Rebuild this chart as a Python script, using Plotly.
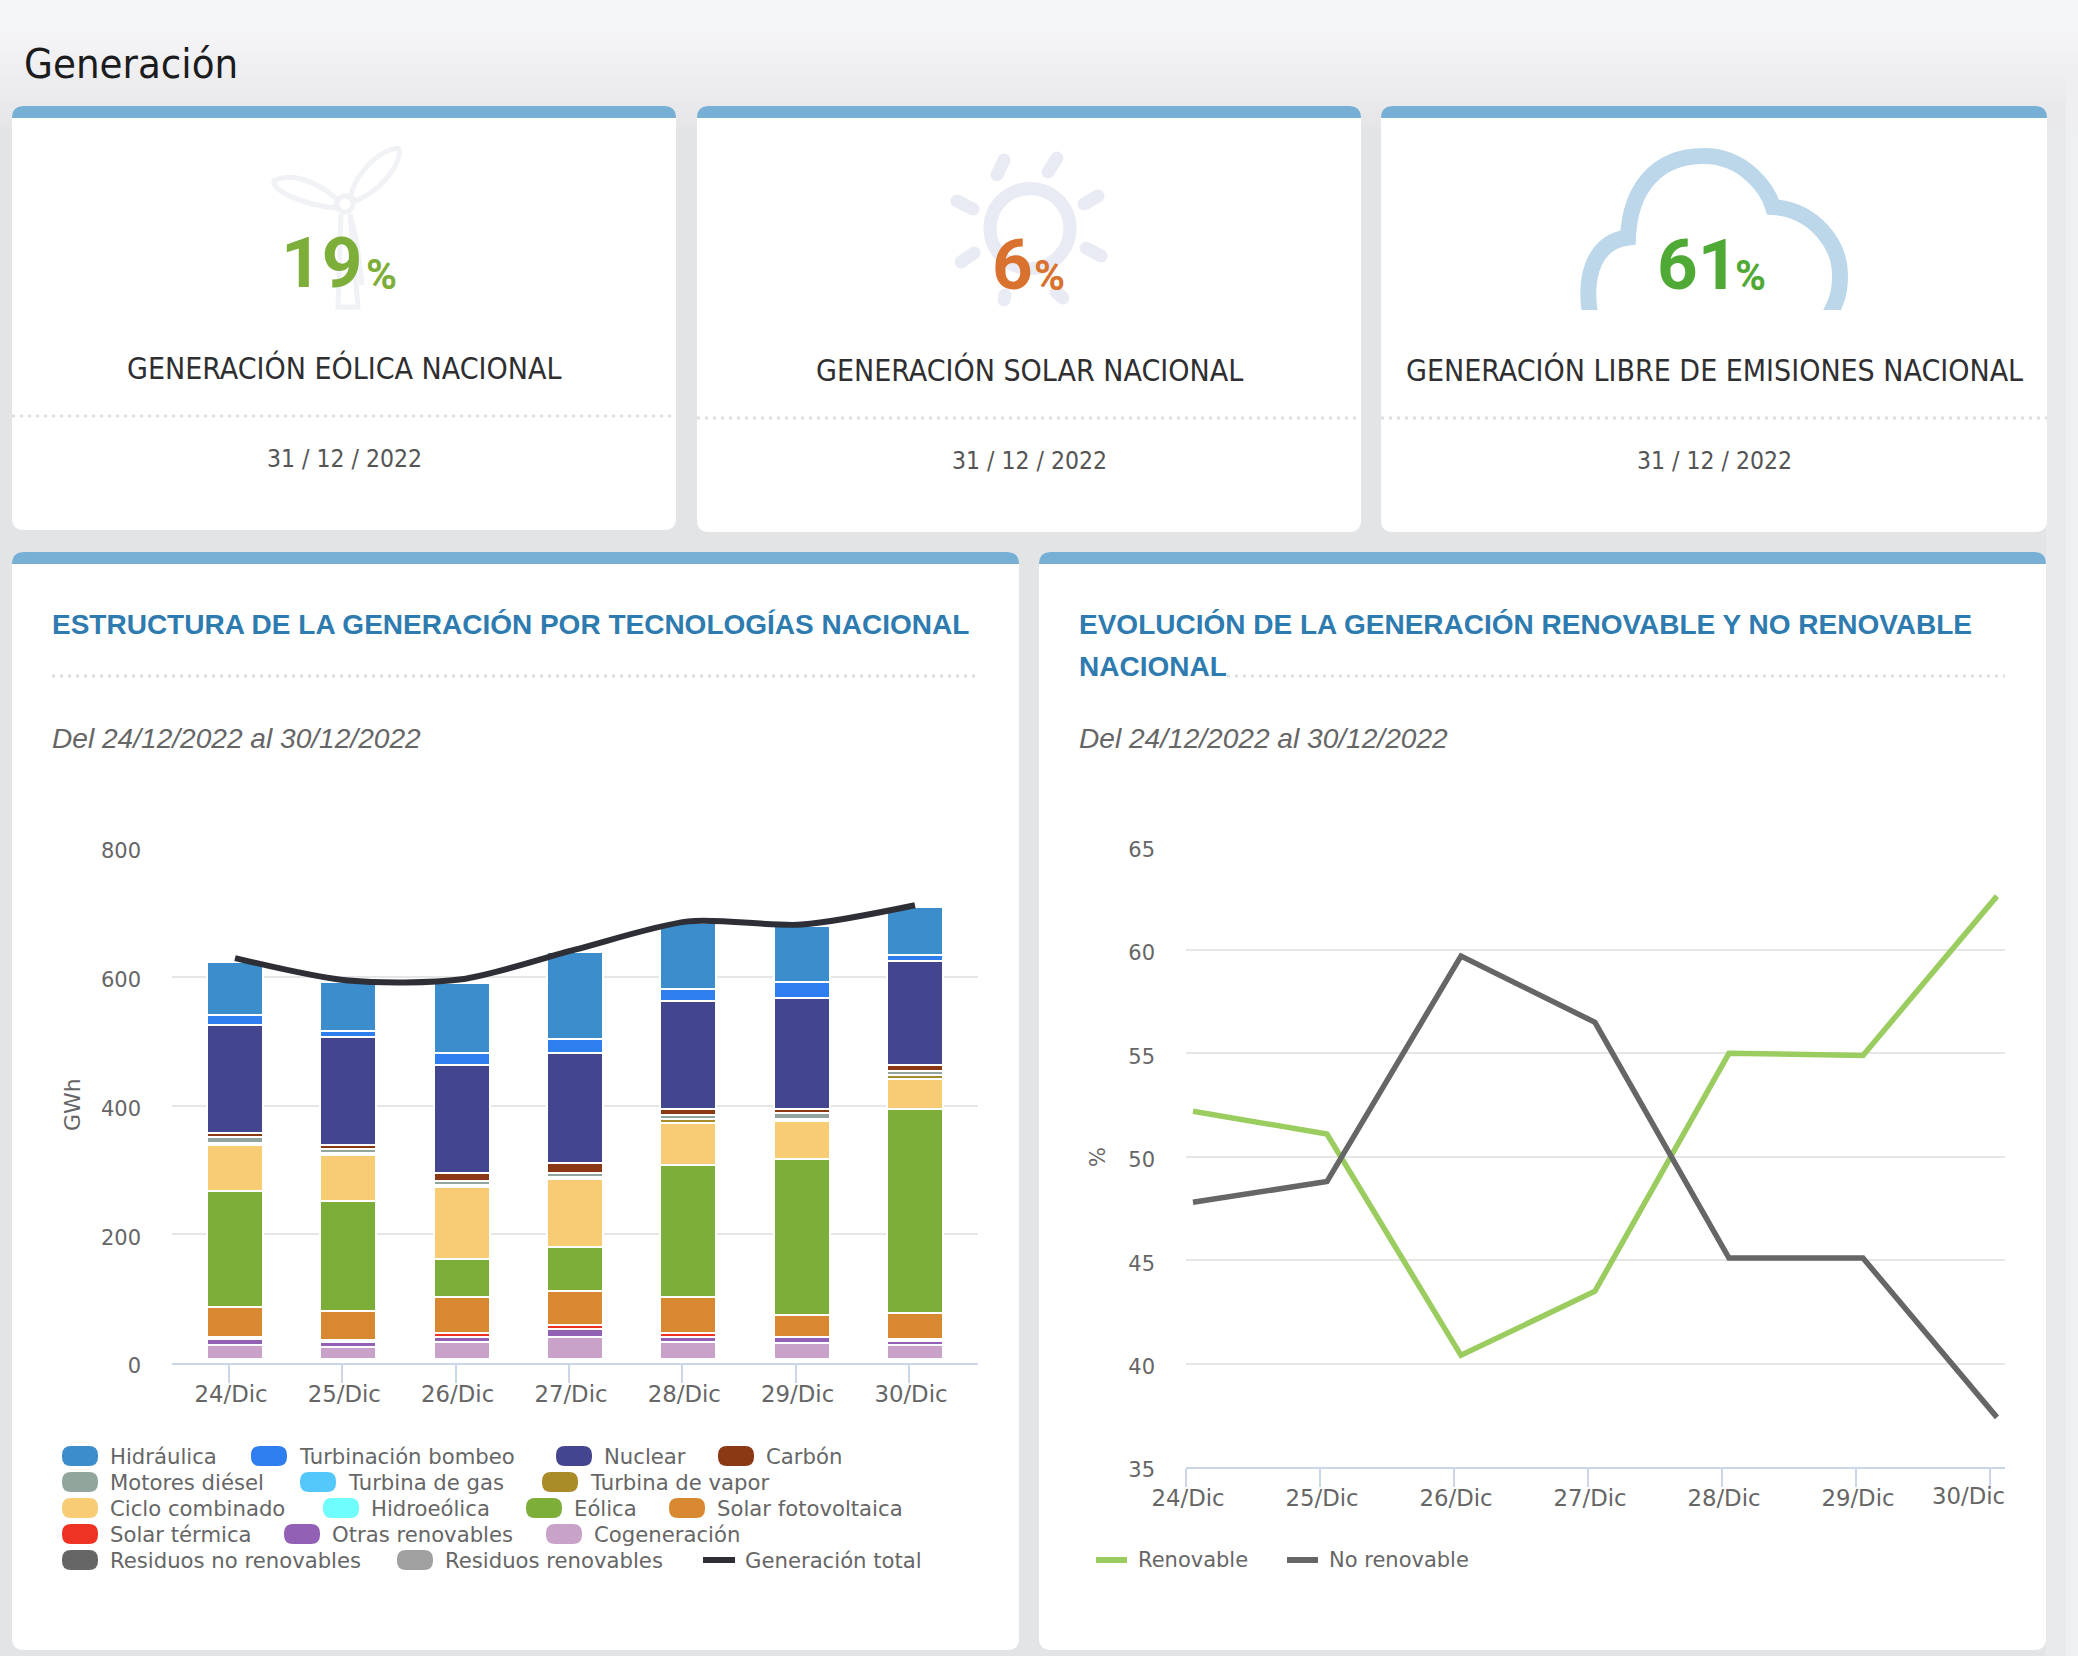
import numpy as np
import plotly.graph_objects as go

W, H = 2078, 1656

# ---- data ----
dias = ["24/Dic", "25/Dic", "26/Dic", "27/Dic", "28/Dic", "29/Dic", "30/Dic"]

hidraulica = [82.5, 75.3, 108.2, 135.5, 102.6, 87.6, 74.5]
bombeo = [15.5, 9.4, 18.8, 21.4, 18.5, 24.4, 9.1]
nuclear = [168.2, 167.4, 168.2, 171.4, 168.2, 171.4, 161.8]
carbon = [6.2, 6.7, 12.6, 15.3, 9.1, 6.2, 9.6]
diesel = [9.4, 6.4, 6.2, 6.2, 6.4, 9.4, 5.9]
gas = [0, 0, 0, 0, 0, 0, 0]
vapor = [3.0, 3.0, 2.4, 3.2, 6.4, 3.2, 6.4]
ciclo = [71.2, 71.5, 112.2, 106.0, 65.1, 58.9, 46.6]
hidroeolica = [0, 0, 0, 0, 0, 0, 0]
eolica = [180.8, 171.2, 59.2, 68.0, 205.2, 242.7, 317.1]
solar_fv = [46.6, 43.7, 56.0, 53.0, 56.0, 34.3, 40.7]
solar_term = [3.1, 3.1, 6.4, 6.4, 6.4, 0.5, 3.1]
otras = [8.8, 8.8, 6.7, 12.3, 6.7, 9.1, 6.0]
cogeneracion = [21.8, 18.6, 27.4, 34.2, 27.4, 25.0, 21.8]
residuos_nr = [3.0, 3.0, 3.0, 3.0, 3.0, 3.0, 3.0]
residuos_r = [3.0, 3.0, 3.0, 3.0, 3.0, 3.0, 3.0]
total = [629, 594, 596, 642, 686, 681, 711]

renovable = [52.2, 51.1, 40.4, 43.5, 55.0, 54.9, 62.6]
no_renovable = [47.8, 48.8, 59.7, 56.5, 45.1, 45.1, 37.4]

tecnologias = ["Hidráulica", "Turbinación bombeo", "Nuclear", "Carbón", "Motores diésel",
               "Turbina de gas", "Turbina de vapor", "Ciclo combinado", "Hidroeólica", "Eólica",
               "Solar fotovoltaica", "Solar térmica", "Otras renovables", "Cogeneración",
               "Residuos no renovables", "Residuos renovables"]
valores = [hidraulica, bombeo, nuclear, carbon, diesel, gas, vapor, ciclo, hidroeolica, eolica,
           solar_fv, solar_term, otras, cogeneracion, residuos_nr, residuos_r]
colores = ["#3b8dcc", "#2f7eef", "#43458e", "#8b3814", "#92a59c", "#54c8fb", "#a98b28", "#f8cb75",
           "#6ffcfc", "#7dae3a", "#d78830", "#ee3324", "#9261b5", "#c8a2c8", "#666666", "#a0a0a0"]

# legend layout: swatch left edge, label left edge, row centre (pixels)
leyenda_pos = [(62, 108, 1456), (251, 297, 1456), (556, 602, 1456), (718, 764, 1456),
               (62, 108, 1482), (300, 346, 1482), (542, 588, 1482),
               (62, 108, 1508), (323, 369, 1508), (526, 572, 1508), (669, 715, 1508),
               (62, 108, 1534), (284, 330, 1534), (546, 592, 1534),
               (62, 108, 1560), (397, 443, 1560)]

NARROW = "DejaVu Sans Condensed, DejaVu Sans, sans-serif"
NUMEROS = "Roboto, sans-serif"
ARIAL = "Liberation Sans, Arial, sans-serif"
SANS = "DejaVu Sans, Verdana, sans-serif"
GRIS = "#666666"


def pt(x, y):
    return f"{x / W:.5f},{1 - y / H:.5f}"


def caja(x0, y0, x1, y1, rt=0, rb=0):
    return (f"M{pt(x0 + rt, y0)} L{pt(x1 - rt, y0)} Q{pt(x1, y0)} {pt(x1, y0 + rt)} "
            f"L{pt(x1, y1 - rb)} Q{pt(x1, y1)} {pt(x1 - rb, y1)} L{pt(x0 + rb, y1)} "
            f"Q{pt(x0, y1)} {pt(x0, y1 - rb)} L{pt(x0, y0 + rt)} Q{pt(x0, y0)} {pt(x0 + rt, y0)} Z")


def capsula(x0, y0, x1, y1, w):
    # rounded stick, used for the sun rays
    ang = np.arctan2(y1 - y0, x1 - x0)
    t1 = np.linspace(ang + np.pi / 2, ang + 3 * np.pi / 2, 8)
    t2 = np.linspace(ang - np.pi / 2, ang + np.pi / 2, 8)
    ps = [(x0 + w / 2 * np.cos(t), y0 + w / 2 * np.sin(t)) for t in t1]
    ps += [(x1 + w / 2 * np.cos(t), y1 + w / 2 * np.sin(t)) for t in t2]
    return "M" + " L".join(pt(a, b) for a, b in ps) + " Z"


shapes = []
annots = []


def relleno(path, color):
    shapes.append(dict(type="path", path=path, xref="paper", yref="paper", layer="below",
                       fillcolor=color, line=dict(width=0)))


def trazo(path, color, ancho):
    shapes.append(dict(type="path", path=path, xref="paper", yref="paper", layer="below",
                       fillcolor="rgba(0,0,0,0)", line=dict(color=color, width=ancho)))


def punteada(x0, x1, y):
    shapes.append(dict(type="line", xref="paper", yref="paper", layer="below",
                       x0=x0 / W, x1=x1 / W, y0=1 - y / H, y1=1 - y / H,
                       line=dict(color="#dedfe1", width=3, dash="3px,5px")))


def texto(x, y, s, size, color, family=SANS, anchor="left", angle=0):
    annots.append(dict(x=x / W, y=1 - y / H, xref="paper", yref="paper", text=s, showarrow=False,
                       xanchor=anchor, yanchor="middle", textangle=angle,
                       font=dict(size=size, color=color, family=family)))


# page background, lighter at the top and on the far right
relleno(caja(0, 0, W, 30), "#f5f6f8")
for i, yy in enumerate(range(30, 130, 4)):
    g = 245 - int(i * 17 / 25)
    relleno(caja(0, yy, W, yy + 4), f"rgb({g},{g},{min(g + 2, 248)})")
    g2 = max(g, 233)
    relleno(caja(2046, yy, W, yy + 4), f"rgb({g2},{g2},{min(g2 + 2, 248)})")
    g3 = max(g, 239)
    relleno(caja(2066, yy, W, yy + 4), f"rgb({g3},{g3},{min(g3 + 2, 248)})")
relleno(caja(2046, 130, W, H), "#e9eaec")
relleno(caja(2066, 130, W, H), "#eff0f2")
texto(22, 63, "Generación", 41.5, "#1c1c1e", NARROW)

# top cards
tarjetas = [(12, 676, 530, 416), (697, 1361, 532, 418), (1381, 2047, 532, 418)]
for x0, x1, y1, yd in tarjetas:
    relleno(caja(x0, 106, x1, y1, 12, 12), "#ffffff")
    relleno(caja(x0, 106, x1, 118, 12, 0), "#78b0d5")
    punteada(x0, x1, yd)

# wind turbine
PALIDO = "#f0f2f6"
trazo(f"M{pt(350, 196)} C{pt(358, 170)} {pt(380, 150)} {pt(398, 148)} C{pt(404, 152)} {pt(392, 185)} {pt(356, 201)} Z", PALIDO, 5)
trazo(f"M{pt(337, 199)} C{pt(315, 180)} {pt(290, 172)} {pt(274, 181)} C{pt(272, 190)} {pt(300, 204)} {pt(335, 208)} Z", PALIDO, 5)
trazo(f"M{pt(341, 214)} L{pt(338, 307)} L{pt(358, 307)} L{pt(350, 214)}", PALIDO, 5)
trazo(f"M{pt(350, 214)} C{pt(356, 235)} {pt(360, 265)} {pt(362, 285)}", PALIDO, 5)
shapes.append(dict(type="circle", xref="paper", yref="paper", layer="below",
                   x0=337 / W, x1=353 / W, y0=1 - 196 / H, y1=1 - 212 / H,
                   fillcolor="#ffffff", line=dict(color=PALIDO, width=5)))

# sun
SOL = "#e9ebf4"
shapes.append(dict(type="circle", xref="paper", yref="paper", layer="below",
                   x0=(1030 - 40) / W, x1=(1030 + 40) / W, y0=1 - (228.5 - 40) / H, y1=1 - (228.5 + 40) / H,
                   fillcolor="rgba(0,0,0,0)", line=dict(color=SOL, width=13)))
rayos = [(1004, 160, 997, 175), (1057, 158, 1048, 172), (1098, 196, 1084, 204), (1101, 256, 1086, 248),
         (1063, 298, 1056, 292), (1004, 300, 1005, 295), (961, 262, 974, 253), (957, 201, 973, 209)]
for r in rayos:
    relleno(capsula(*r, 13), SOL)

# cloud
trazo(f"M{pt(1590, 314)} C{pt(1583, 270)} {pt(1598, 241)} {pt(1628, 237.5)} "
      f"C{pt(1630, 190)} {pt(1655, 156)} {pt(1704, 156)} C{pt(1745, 156)} {pt(1768, 190)} {pt(1773, 207)} "
      f"C{pt(1815, 210)} {pt(1840, 245)} {pt(1840, 275)} C{pt(1840, 290)} {pt(1838, 300)} {pt(1829, 316)}",
      "#bcd7ea", 16)
relleno(caja(1570, 310, 1860, 322), "#ffffff")

# big numbers and card captions
texto(364, 262, "<b>19</b>", 71, "#7dae3a", NUMEROS, "right")
texto(364, 274, "<b>%</b>", 42, "#7dae3a", NUMEROS)
texto(1035, 264, "<b>6</b>", 71, "#d9722e", NUMEROS, "right")
texto(1032, 276, "<b>%</b>", 42, "#d9722e", NUMEROS)
texto(1740, 264, "<b>61</b>", 71, "#4fa935", NUMEROS, "right")
texto(1733, 276, "<b>%</b>", 42, "#4fa935", NUMEROS)

texto(344, 368, "GENERACIÓN EÓLICA NACIONAL", 30, "#2f2f31", NARROW, "center")
texto(1029, 370, "GENERACIÓN SOLAR NACIONAL", 30, "#2f2f31", NARROW, "center")
texto(1714, 370, "GENERACIÓN LIBRE DE EMISIONES NACIONAL", 30, "#2f2f31", NARROW, "center")
texto(344, 458, "31 / 12 / 2022", 24.5, "#555555", NARROW, "center")
texto(1029, 460, "31 / 12 / 2022", 24.5, "#555555", NARROW, "center")
texto(1714, 460, "31 / 12 / 2022", 24.5, "#555555", NARROW, "center")

# chart cards
for x0, x1 in [(12, 1019), (1039, 2046)]:
    relleno(caja(x0, 552, x1, 1650, 12, 12), "#ffffff")
    relleno(caja(x0, 552, x1, 564, 12, 0), "#78b0d5")
punteada(52, 978, 676)
punteada(1227, 2005, 676)

AZUL = "#2e7bb0"
texto(50, 624, "<b>ESTRUCTURA DE LA GENERACIÓN POR TECNOLOGÍAS NACIONAL</b>", 28, AZUL, ARIAL)
texto(1077, 624, "<b>EVOLUCIÓN DE LA GENERACIÓN RENOVABLE Y NO RENOVABLE</b>", 28, AZUL, ARIAL)
texto(1077, 666, "<b>NACIONAL</b>", 28, AZUL, ARIAL)
for xx in (50, 1077):
    texto(xx, 738, "<i>Del 24/12/2022 al 30/12/2022</i>", 28.1, "#666666", ARIAL)

texto(72, 1105, "GWh", 22, GRIS, SANS, "center", -90)
texto(1098, 1157, "%", 21, GRIS, SANS, "center", -90)
texto(1968, 1496, dias[-1], 22.8, GRIS, SANS, "center")

# hand made legends: pill swatches like the original
for nombre, color, (xs, xt, yl) in zip(tecnologias, colores, leyenda_pos):
    relleno(caja(xs, yl - 10, xs + 36, yl + 10, 9, 9), color)
    texto(xt, yl, nombre, 21.2, GRIS)
relleno(caja(703, 1557, 735, 1563), "#2d2e36")
texto(743, 1560, "Generación total", 21.2, GRIS)
relleno(caja(1096, 1557, 1127, 1563), "#9bcc5f")
texto(1136, 1560, "Renovable", 21, GRIS)
relleno(caja(1287, 1557, 1318, 1563), GRIS)
texto(1327, 1560, "No renovable", 21, GRIS)

fig = go.Figure()
idx = list(range(len(dias)))

# stacked from the bottom, so walk the legend order backwards
for nombre, vals, color in reversed(list(zip(tecnologias, valores, colores))):
    fig.add_trace(go.Bar(x=idx, y=vals, name=nombre, width=0.494, xaxis="x", yaxis="y",
                         marker=dict(color=color, line=dict(color="#ffffff", width=2))))
fig.add_trace(go.Scatter(x=idx, y=total, name="Generación total", mode="lines", xaxis="x", yaxis="y",
                         line=dict(color="#2d2e36", width=6, shape="spline", smoothing=0.8)))
fig.add_trace(go.Scatter(x=idx, y=renovable, name="Renovable", mode="lines", xaxis="x2", yaxis="y2",
                         line=dict(color="#9bcc5f", width=5.5)))
fig.add_trace(go.Scatter(x=idx, y=no_renovable, name="No renovable", mode="lines", xaxis="x2", yaxis="y2",
                         line=dict(color=GRIS, width=5.5)))

eje_x = dict(showgrid=False, zeroline=False, showline=True, linecolor="#ccd6eb", linewidth=2,
             ticks="outside", ticklen=18, tickwidth=2, tickcolor="#ccd6eb",
             ticklabelstandoff=-8, ticklabelshift=2,
             tickfont=dict(family=SANS, size=22.8, color=GRIS))
eje_y = dict(showgrid=True, gridcolor="#e6e6e6", gridwidth=2, zeroline=False, showline=False,
             ticks="", ticklabelstandoff=30, ticklabelshift=3,
             tickfont=dict(family=SANS, size=21, color=GRIS))

fig.update_layout(
    width=W, height=H, margin=dict(l=0, r=0, t=0, b=0, autoexpand=False), showlegend=False,
    paper_bgcolor="#e3e4e6", plot_bgcolor="rgba(0,0,0,0)", barmode="stack", bargap=0,
    shapes=shapes, annotations=annots,
    xaxis=dict(domain=[172 / W, 978 / W], anchor="y", range=[-0.556, 6.556],
               tickvals=[i - 0.053 for i in idx], ticktext=dias, **eje_x),
    yaxis=dict(domain=[1 - 1363 / H, 1 - 848 / H], anchor="x", range=[0, 800],
               tickvals=[0, 200, 400, 600, 800], **eje_y),
    xaxis2=dict(domain=[1186 / W, 2005 / W], anchor="y2", range=[-0.052, 6.06],
                tickvals=[i - 0.052 for i in idx], ticktext=dias[:-1] + [""], **eje_x),
    yaxis2=dict(domain=[1 - 1467 / H, 1 - 846.5 / H], anchor="x2", range=[35, 65],
                tickvals=[35, 40, 45, 50, 55, 60, 65], **eje_y),
)

fig.write_html("out.html", config={"displayModeBar": False},
               post_script="document.body.style.margin='0';")
